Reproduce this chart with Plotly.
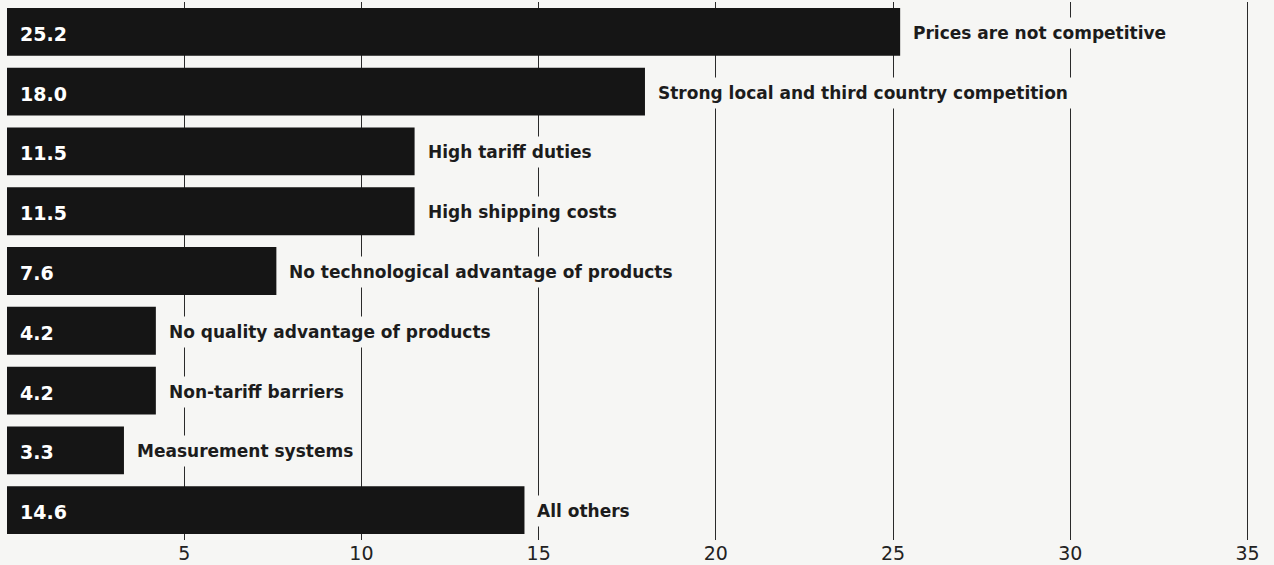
import plotly.graph_objects as go

categories = [
    "Prices are not competitive",
    "Strong local and third country competition",
    "High tariff duties",
    "High shipping costs",
    "No technological advantage of products",
    "No quality advantage of products",
    "Non-tariff barriers",
    "Measurement systems",
    "All others",
]
values = [25.2, 18.0, 11.5, 11.5, 7.6, 4.2, 4.2, 3.3, 14.6]
tick_vals = [5, 10, 15, 20, 25, 30, 35]

BG = "#f6f6f4"
BAR = "#151515"

fig = go.Figure(
    go.Bar(
        x=values,
        y=categories,
        orientation="h",
        marker=dict(color=BAR, line=dict(width=0)),
        hoverinfo="skip",
    )
)

annotations = []
for c, v in zip(categories, values):
    annotations.append(dict(
        x=0, y=c, xref="x", yref="y", text=f"{v:.1f}",
        showarrow=False, xanchor="left", xshift=11, yshift=-2,
        font=dict(family="DejaVu Sans", size=19, color="white", weight="bold"),
    ))
    annotations.append(dict(
        x=v, y=c, xref="x", yref="y", text=c,
        showarrow=False, xanchor="left", xshift=7, yshift=-1,
        font=dict(family="DejaVu Sans", size=17, color="#1c1c1c", weight="bold"),
        bgcolor=BG, borderpad=5,
    ))

fig.update_layout(
    width=1274, height=565,
    margin=dict(l=7, r=7, t=2, b=25),
    paper_bgcolor=BG, plot_bgcolor=BG,
    bargap=0.2,
    showlegend=False,
    annotations=annotations,
    xaxis=dict(
        range=[0, 35.55], tickvals=tick_vals, showgrid=True,
        gridcolor="#2a2a2a", gridwidth=1.2, zeroline=False,
        showline=False, ticks="", automargin=False,
        tickfont=dict(family="DejaVu Sans", size=19, color="#222"),
    ),
    yaxis=dict(
        autorange="reversed", showticklabels=False, showgrid=False,
        zeroline=False, showline=False, ticks="", automargin=False,
    ),
)

fig.write_html(
    "out.html",
    config={"displayModeBar": False},
    post_script="document.body.style.margin='0';document.body.style.background='%s';" % BG,
)
